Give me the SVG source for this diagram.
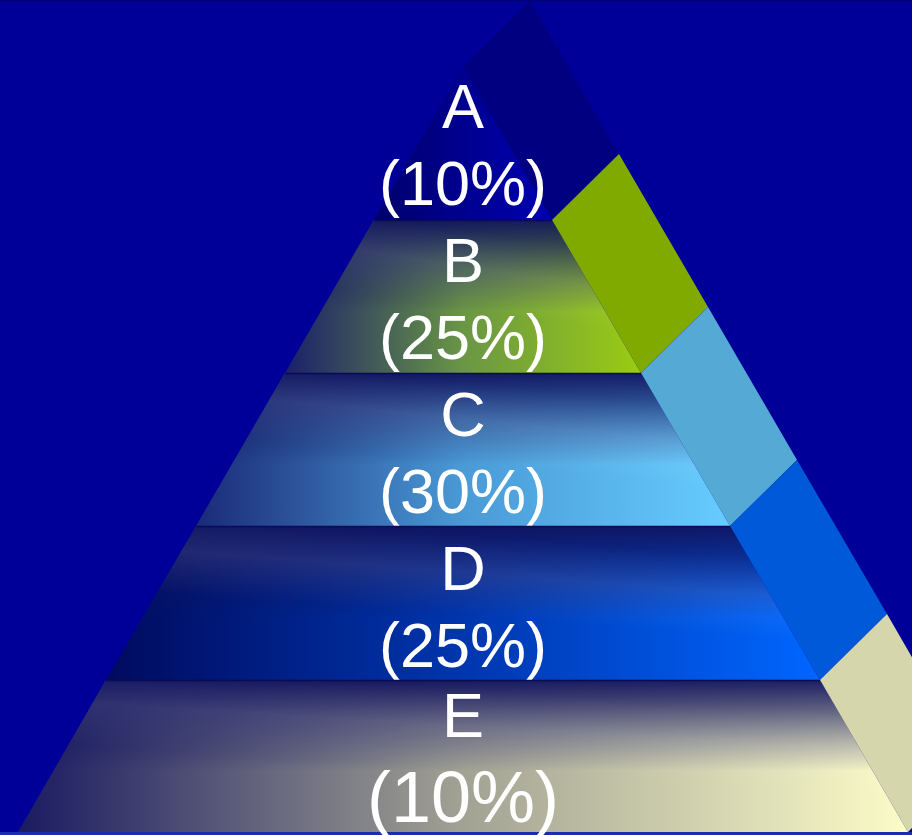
<svg xmlns="http://www.w3.org/2000/svg" width="912" height="835" viewBox="0 0 912 835">
<style>
.lbl{font-family:"Liberation Sans",Arial,sans-serif;fill:#ffffff;text-anchor:middle;font-size:63px}
.sep{stroke:#0a0a55;stroke-width:1.5;fill:none}
</style>
<defs>
<linearGradient id="gA" x1="0" y1="0" x2="1" y2="0"><stop offset="0" stop-color="#00006c"/><stop offset="1" stop-color="#0000b2"/></linearGradient>
<linearGradient id="gB" x1="0" y1="0" x2="1" y2="0"><stop offset="0" stop-color="#1a1f6a"/><stop offset="0.5" stop-color="#6a9645"/><stop offset="1" stop-color="#9acc12"/></linearGradient>
<linearGradient id="gC" x1="0" y1="0" x2="1" y2="0"><stop offset="0" stop-color="#1a2a78"/><stop offset="0.5" stop-color="#4a9ad6"/><stop offset="1" stop-color="#66ccff"/></linearGradient>
<linearGradient id="gD" x1="0" y1="0" x2="1" y2="0"><stop offset="0" stop-color="#000a5e"/><stop offset="0.5" stop-color="#0036ae"/><stop offset="1" stop-color="#0066ff"/></linearGradient>
<linearGradient id="gE" x1="0" y1="0" x2="1" y2="0"><stop offset="0" stop-color="#1a1a62"/><stop offset="0.5" stop-color="#a2a294"/><stop offset="1" stop-color="#fcfcc8"/></linearGradient>
<linearGradient id="top" x1="0" y1="0" x2="0" y2="1"><stop offset="0" stop-color="#10135e" stop-opacity="0.95"/><stop offset="0.6" stop-color="#10135e" stop-opacity="0"/></linearGradient>
<linearGradient id="shine" x1="0.6" y1="0" x2="0.25" y2="1"><stop offset="0.08" stop-color="#ffffff" stop-opacity="0"/><stop offset="0.3" stop-color="#ffffff" stop-opacity="0.09"/><stop offset="0.55" stop-color="#ffffff" stop-opacity="0"/></linearGradient>
</defs>
<rect x="0" y="0" width="912" height="835" fill="#000099"/>
<rect x="0" y="0" width="912" height="1.5" fill="#00007a"/>
<rect x="0" y="832" width="912" height="3" fill="#1c2cae"/>

<g id="side">
<polygon points="530,1 463,67 552,220 619,154" fill="#000080"/>
<polygon id="sideB" points="552,220 641,373 708,307 619,154" fill="#80aa00"/>
<polygon id="sideC" points="641,373 730,526 797,460 708,307" fill="#55aad5"/>
<polygon id="sideD" points="730,526 820,680 887,614 797,460" fill="#0059d9"/>
<polygon id="sideE" points="820,680 908,832 975,766 887,614" fill="#d6d6ad"/>
</g>

<g id="bandA">
<polygon points="463,67 552,220 374,220" fill="url(#gA)"/>
<text class="lbl" x="463" y="128">A</text>
<text class="lbl" x="463" y="205">(10%)</text>
</g>
<g id="bandB">
<polygon points="374,220 552,220 641,373 285,373" fill="url(#gB)"/>
<polygon points="374,220 552,220 641,373 285,373" fill="url(#top)"/>
<polygon points="374,220 552,220 641,373 285,373" fill="url(#shine)"/>
<line class="sep" x1="374" y1="220.5" x2="552" y2="220.5"/>
<text class="lbl" x="463" y="282">B</text>
<text class="lbl" x="463" y="359">(25%)</text>
</g>
<g id="bandC">
<polygon points="285,373 641,373 730,526 196,526" fill="url(#gC)"/>
<polygon points="285,373 641,373 730,526 196,526" fill="url(#top)"/>
<polygon points="285,373 641,373 730,526 196,526" fill="url(#shine)"/>
<line class="sep" x1="285" y1="373.5" x2="641" y2="373.5"/>
<text class="lbl" x="463" y="436">C</text>
<text class="lbl" x="463" y="513">(30%)</text>
</g>
<g id="bandD">
<polygon points="196,526 730,526 820,680 106,680" fill="url(#gD)"/>
<polygon points="196,526 730,526 820,680 106,680" fill="url(#top)"/>
<polygon points="196,526 730,526 820,680 106,680" fill="url(#shine)"/>
<line class="sep" x1="196" y1="526.5" x2="730" y2="526.5"/>
<text class="lbl" x="463" y="590">D</text>
<text class="lbl" x="463" y="667">(25%)</text>
</g>
<g id="bandE">
<polygon points="106,680 820,680 908,832 18,832" fill="url(#gE)"/>
<polygon points="106,680 820,680 908,832 18,832" fill="url(#top)"/>
<polygon points="106,680 820,680 908,832 18,832" fill="url(#shine)"/>
<line class="sep" x1="106" y1="680.5" x2="820" y2="680.5"/>
<text class="lbl" x="463" y="737">E</text>
<text class="lbl" x="463" y="822" style="font-size:72px">(10%)</text>
</g>
<g id="connectors"/>
</svg>
